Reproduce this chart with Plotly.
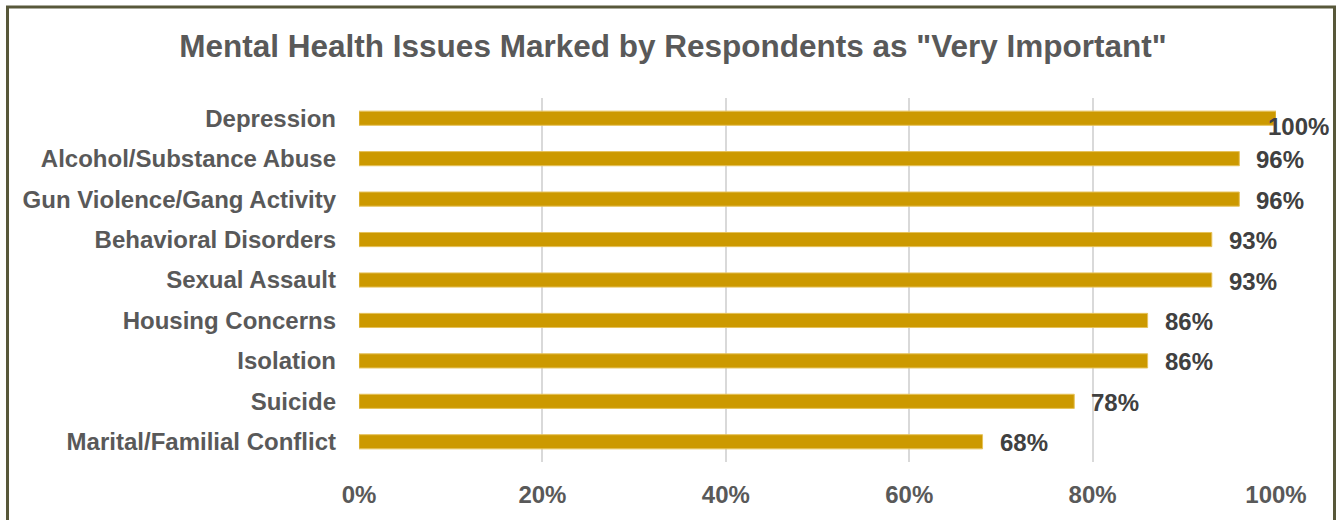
import plotly.graph_objects as go

categories = ["Depression", "Alcohol/Substance Abuse", "Gun Violence/Gang Activity",
              "Behavioral Disorders", "Sexual Assault", "Housing Concerns",
              "Isolation", "Suicide", "Marital/Familial Conflict"]
values = [100, 96, 96, 93, 93, 86, 86, 78, 68]
tick_vals = [0, 20, 40, 60, 80, 100]
tick_text = ["0%", "20%", "40%", "60%", "80%", "100%"]

W, H = 1336, 520
L, R, T, B = 359, 60, 98, 58
pw, ph = W - L - R, H - T - B
FONT = "Liberation Sans, Arial"

fig = go.Figure()
fig.add_trace(go.Bar(
    y=categories, x=values, orientation="h",
    marker=dict(color="#CC9900", line=dict(color="#E6C25A", width=1)),
    width=0.35, hoverinfo="skip",
))

for c, v in zip(categories, values):
    fig.add_annotation(
        x=v, y=c, xref="x", yref="y", text=f"{v}%", showarrow=False,
        xanchor="left", xshift=(-10 if v >= 100 else 15), yshift=(-8 if v >= 100 else -1),
        font=dict(family=FONT, size=24, color="#404040", weight="bold"),
    )

def px_x(p):
    return (p - L) / pw

def px_y(p):
    return (H - B - p) / ph

fig.add_shape(type="rect", xref="paper", yref="paper",
              x0=px_x(7.5), x1=px_x(1334.5), y0=px_y(540), y1=px_y(7),
              line=dict(color="#58583A", width=3), fillcolor="rgba(0,0,0,0)", layer="above")

fig.update_layout(
    width=W, height=H,
    margin=dict(l=L, r=R, t=T, b=B, autoexpand=False),
    paper_bgcolor="white", plot_bgcolor="white",
    title=dict(text='Mental Health Issues Marked by Respondents as "Very Important"',
               x=673 / W, xref="container", xanchor="center", y=1 - 46 / H, yref="container",
               yanchor="middle",
               font=dict(family=FONT, size=31.5, color="#595959", weight="bold")),
    showlegend=False,
    xaxis=dict(range=[0, 100], tickvals=tick_vals, ticktext=tick_text, automargin=False,
               showgrid=True, gridcolor="#D9D9D9", gridwidth=1.5, zeroline=False,
               showline=False, ticks="", ticklabelstandoff=16,
               tickfont=dict(family=FONT, size=24, color="#595959", weight="bold")),
    yaxis=dict(categoryorder="array", categoryarray=categories[::-1], automargin=False,
               range=[-0.5, len(categories) - 0.5],
               showgrid=False, zeroline=False, showline=False, ticks="",
               ticklabelstandoff=22,
               tickfont=dict(family=FONT, size=24, color="#595959", weight="bold")),
)

fig.write_html("out.html", config={"displayModeBar": False},
               post_script="document.body.style.margin='0px';")
